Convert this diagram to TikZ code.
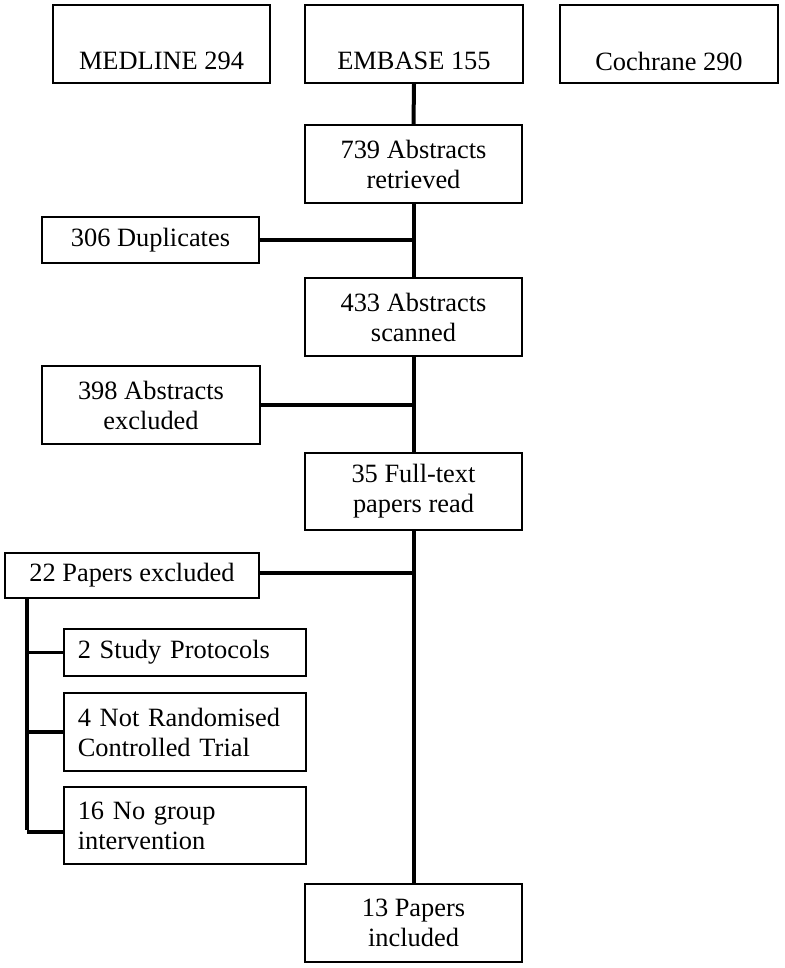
\documentclass[tikz,border=0pt]{standalone}
\usepackage{fontspec}
\setmainfont{Liberation Serif}
\begin{document}
\begin{tikzpicture}[x=1pt,y=-1pt,
  box/.style={draw=black,line width=1.5pt,inner sep=0pt,align=center,
    font=\fontsize{26.4}{30}\selectfont},
  lbox/.style={draw=black,line width=1.5pt,inner xsep=14pt,inner ysep=0pt,
    minimum width=242pt,text width=214pt,align=left,
    font=\fontsize{26.4}{30}\selectfont},
  txt/.style={inner sep=0pt,font=\fontsize{26.4}{30}\selectfont},
  vline/.style={line width=4pt},
  hline/.style={line width=3.5pt}]
\useasboundingbox (0,0) rectangle (784,968);
% top row
\node[box,minimum width=217pt,minimum height=78pt] (med) at (161.5,44) {};
\node[txt] (medt) at (161.5,61) {MEDLINE 294};
\node[box,minimum width=218pt,minimum height=78pt] (emb) at (414,44) {};
\node[txt] (embt) at (414,61) {EMBASE 155};
\node[box,minimum width=218pt,minimum height=78pt] (coc) at (669,44) {};
\node[txt] (coct) at (669,61) {Cochrane 290};
% main column
\node[box,minimum width=217pt,minimum height=78pt] (ret) at (413.5,164) {739 Abstracts\\retrieved};
\node[box,minimum width=217pt,minimum height=78pt] (scan) at (413.5,317) {433 Abstracts\\scanned};
\node[box,minimum width=217pt,minimum height=77pt] (full) at (413.5,491.5) {35 Full-text\\papers read};
\node[box,minimum width=217pt,minimum height=78pt] (inc) at (413.5,923) {13 Papers\\included};
% side boxes
\node[box,minimum width=217pt,minimum height=46pt] (dup) at (150.5,240) {306 Duplicates};
\node[box,minimum width=218pt,minimum height=78pt] (absx) at (151,405) {398 Abstracts\\excluded};
\node[box,minimum width=254pt,minimum height=45pt] (pex) at (132,575.5) {22 Papers excluded};
% sub boxes
\node[lbox,minimum height=47pt,anchor=west] (s1) at (63,652.5) {2 Study Protocols};
\node[lbox,minimum height=78pt,anchor=west] (s2) at (63,732) {4 Not Randomised\\Controlled Trial};
\node[lbox,minimum height=77pt,anchor=west] (s3) at (63,825.5) {16 No group\\intervention};
% connectors
\draw[vline] (emb.south) -- (ret.north);
\draw[vline] (ret.south) -- (scan.north);
\draw[vline] (scan.south) -- (full.north);
\draw[vline] (full.south) -- (inc.north);
\draw[hline] (dup.east) -- (dup.east -| ret.south);
\draw[hline] (absx.east) -- (absx.east -| scan.south);
\coordinate (pj) at (413.5,573);
\draw[hline] (pj -| pex.east) -- (pj);
\coordinate (lb) at (27,830);
\draw[vline] (pex.south -| lb) -- (lb);
\draw[hline] (s1.west -| lb) -- (s1.west);
\draw[hline] (s2.west -| lb) -- (s2.west);
\draw[hline] ([yshift=-1.75pt]lb) -- ([yshift=-1.75pt]lb -| s3.west);
\end{tikzpicture}
\end{document}
